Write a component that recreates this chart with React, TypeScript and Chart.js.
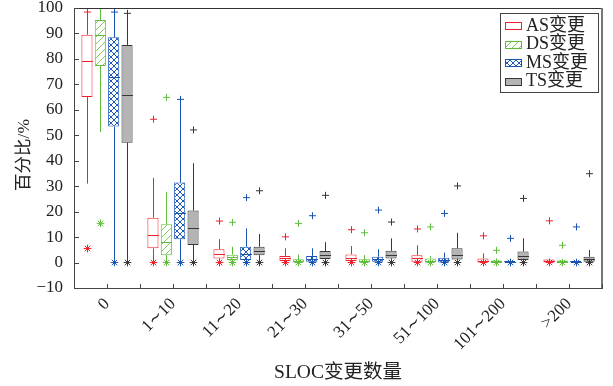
import React, { useEffect, useRef } from 'react';
import { Chart, registerables } from 'chart.js';
Chart.register(...registerables);

const categories = ['0', '1∼10', '11∼20', '21∼30', '31∼50', '51∼100', '101∼200', '>200'];
const seriesNames = ['AS变更', 'DS变更', 'MS变更', 'TS变更'];
const yTicks = [-10, 0, 10, 20, 30, 40, 50, 60, 70, 80, 90, 100];

// AS
const asMin = [5.5, 0, 0, 0, 0, 0, 0, 0];
const asLow = [31, 0, 0, 0, 0, 0, 0, 0];
const asQ1 = [65, 5.6, 1.6, 0.6, 0.6, 0.3, 0, 0];
const asMed = [79, 11, 3.3, 1.6, 1.9, 1.6, 0.8, 0.5];
const asQ3 = [89.5, 17.6, 5.2, 2.6, 3.2, 2.9, 1.6, 1.2];
const asHigh = [98.4, 33.3, 9.2, 5.6, 6.5, 6.8, 3.6, 1.5];
const asMax = [98.4, 56.3, 16.3, 10.1, 12.9, 13.2, 10.5, 16.4];
// DS
const dsMin = [15.4, 0, 0, 0, 0, 0, 0, 0];
const dsLow = [51.3, 0, 0, 0, 0, 0, 0, 0];
const dsQ1 = [77.2, 2.9, 1, 0, 0, 0, 0, 0];
const dsMed = [89.4, 8, 2.2, 0.5, 0.5, 0.5, 0.3, 0.3];
const dsQ3 = [95.3, 15, 3.1, 1.3, 1.3, 1.6, 0.8, 0.8];
const dsHigh = [100, 27.8, 6.2, 3.1, 2.9, 2.6, 1.6, 1.2];
const dsMax = [null, 64.9, 15.8, 15.4, 11.7, 14, 4.8, 6.8];
// MS
const msMin = [0, 0, 0, 0, 0, 0, 0, 0];
const msLow = [0, 0, 0, 0, 0, 0, 0, 0];
const msQ1 = [53.4, 9.2, 1, 0.3, 0.3, 0, 0, 0];
const msMed = [73, 19.3, 3.5, 1.2, 1.2, 1.0, 0.3, 0.3];
const msQ3 = [88.5, 31.4, 6.2, 2.6, 2.3, 1.9, 0.6, 0.6];
const msHigh = [98.4, 64.1, 13.4, 5.6, 5.2, 3.9, 1.0, 1.0];
const msMax = [98.4, 64.1, 25.5, 18.4, 20.6, 19.3, 9.5, 14];
// TS
const tsMin = [0, 0, 0, 0, 0, 0, 0, 0];
const tsLow = [0, 0, 0, 0, 0, 0, 0, 0];
const tsQ1 = [47.1, 6.9, 2.9, 1.4, 1.6, 1.2, 1.0, 0.3];
const tsMed = [65.8, 13.4, 4.5, 2.9, 3.1, 2.9, 2.6, 1.2];
const tsQ3 = [85.5, 20.4, 6.2, 4.5, 4.6, 5.6, 4.3, 2.3];
const tsHigh = [97.9, 39, 11.2, 8, 9.5, 11.7, 9.5, 4.9];
const tsMax = [97.9, 52.1, 28.2, 26.4, 15.9, 30.1, 25.2, 34.9];

const stats = [
  { min: asMin, low: asLow, q1: asQ1, med: asMed, q3: asQ3, high: asHigh, max: asMax },
  { min: dsMin, low: dsLow, q1: dsQ1, med: dsMed, q3: dsQ3, high: dsHigh, max: dsMax },
  { min: msMin, low: msLow, q1: msQ1, med: msMed, q3: msQ3, high: msHigh, max: msMax },
  { min: tsMin, low: tsLow, q1: tsQ1, med: tsMed, q3: tsQ3, high: tsHigh, max: tsMax },
];

const styles = [
  { line: 'rgb(240,32,44)', kind: 'none', hatch: '', fill: '#ffffff' },
  { line: 'rgb(96,188,60)', kind: 'diag', hatch: 'rgb(120,205,85)', fill: '#ffffff' },
  { line: 'rgb(24,84,178)', kind: 'cross', hatch: 'rgb(30,90,185)', fill: '#ffffff' },
  { line: 'rgb(55,55,55)', kind: 'solid', hatch: '', fill: 'rgb(180,180,180)' },
];

const SERIF = "'Liberation Serif', 'DejaVu Serif', 'Noto Sans CJK SC', serif";

function makeFill(st: any): any {
  if (st.kind === 'none' || st.kind === 'solid') return st.fill;
  const s = st.kind === 'cross' ? 6 : 7;
  const c = document.createElement('canvas');
  c.width = s; c.height = s;
  const g = c.getContext('2d')!;
  g.fillStyle = '#ffffff';
  g.fillRect(0, 0, s, s);
  g.strokeStyle = st.hatch;
  g.lineWidth = 1;
  g.beginPath();
  g.moveTo(-1, s + 1); g.lineTo(s + 1, -1);
  if (st.kind === 'cross') { g.moveTo(-1, -1); g.lineTo(s + 1, s + 1); }
  g.stroke();
  return g.createPattern(c, 'repeat');
}

function plus(ctx: CanvasRenderingContext2D, x: number, y: number, r: number) {
  ctx.beginPath();
  ctx.moveTo(x - r, y); ctx.lineTo(x + r, y);
  ctx.moveTo(x, y - r); ctx.lineTo(x, y + r);
  ctx.stroke();
}
function star(ctx: CanvasRenderingContext2D, x: number, y: number, r: number) {
  const d = r * 0.72;
  ctx.beginPath();
  ctx.moveTo(x - r, y); ctx.lineTo(x + r, y);
  ctx.moveTo(x, y - r); ctx.lineTo(x, y + r);
  ctx.moveTo(x - d, y - d); ctx.lineTo(x + d, y + d);
  ctx.moveTo(x - d, y + d); ctx.lineTo(x + d, y - d);
  ctx.stroke();
}

export default function App() {
  const ref = useRef<HTMLCanvasElement>(null);
  useEffect(() => {
    const fills = styles.map(makeFill);
    const boxPlugin = {
      id: 'boxExtras',
      afterDatasetsDraw(chart: any) {
        const ctx: CanvasRenderingContext2D = chart.ctx;
        const ys = chart.scales.y;
        const xs = chart.scales.x;
        const a = chart.chartArea;
        ctx.save();
        ctx.beginPath();
        ctx.rect(a.left, a.top - 1, a.right - a.left, a.bottom - a.top + 1);
        ctx.clip();
        stats.forEach((st, di) => {
          const meta = chart.getDatasetMeta(di);
          const color = styles[di].line;
          ctx.strokeStyle = color;
          ctx.lineWidth = 1;
          meta.data.forEach((el: any, i: number) => {
            const x = Math.round(el.x) + 0.5;
            const w = el.width;
            const py = (v: number) => ys.getPixelForValue(v);
            ctx.beginPath();
            ctx.moveTo(x, py(st.q3[i])); ctx.lineTo(x, py(st.high[i]));
            ctx.moveTo(x, py(st.q1[i])); ctx.lineTo(x, py(st.low[i]));
            ctx.stroke();
            ctx.beginPath();
            const my = Math.round(py(st.med[i])) + 0.5;
            ctx.moveTo(x - w / 2, my); ctx.lineTo(x + w / 2, my);
            ctx.stroke();
            const mx = st.max[i];
            if (mx !== null && mx !== undefined) plus(ctx, x, py(mx as number), 3.5);
            star(ctx, x, py(st.min[i]), 3.8);
          });
        });
        ctx.restore();

        ctx.save();
        ctx.strokeStyle = '#333';
        ctx.lineWidth = 1;
        ctx.beginPath();
        ctx.moveTo(a.left, a.top + 0.5); ctx.lineTo(a.right, a.top + 0.5);
        ctx.stroke();
        ctx.strokeStyle = '#777';
        ctx.lineWidth = 2;
        ctx.beginPath();
        ctx.moveTo(a.right, a.top); ctx.lineTo(a.right, a.bottom);
        ctx.stroke();
        ctx.strokeStyle = '#444';
        ctx.lineWidth = 1;
        ctx.beginPath();
        yTicks.forEach((v) => {
          const yy = Math.round(ys.getPixelForValue(v)) + 0.5;
          ctx.moveTo(a.left, yy); ctx.lineTo(a.left + 5, yy);
        });
        const n = categories.length;
        for (let k = 0; k <= 2 * n; k++) {
          const xx = Math.round(xs.left + (xs.right - xs.left) * k / (2 * n)) + 0.5;
          ctx.moveTo(xx, a.bottom); ctx.lineTo(xx, a.bottom - 4);
        }
        ctx.stroke();

        ctx.fillStyle = '#222';
        ctx.font = `19.5px ${SERIF}`;
        ctx.textAlign = 'center';
        ctx.textBaseline = 'middle';
        ctx.fillText('SLOC变更数量', 338, 373);
        ctx.save();
        ctx.translate(24, 155);
        ctx.rotate(-Math.PI / 2);
        ctx.font = `17.5px ${SERIF}`;
        ctx.fillText('百分比/%', 0, 0);
        ctx.restore();

        const lx = 500, ly = 13, lw = 98, lh = 79;
        ctx.fillStyle = '#fff';
        ctx.fillRect(lx, ly, lw, lh);
        ctx.strokeStyle = '#444';
        ctx.lineWidth = 1;
        ctx.strokeRect(lx + 0.5, ly + 0.5, lw, lh);
        ctx.font = `18px ${SERIF}`;
        ctx.textAlign = 'left';
        seriesNames.forEach((name, i) => {
          const cy = 25 + i * 18.5;
          ctx.fillStyle = fills[i];
          ctx.fillRect(505, Math.round(cy - 3), 16, 7);
          ctx.strokeStyle = styles[i].line;
          ctx.strokeRect(505.5, Math.round(cy - 3) + 0.5, 16, 7);
          ctx.fillStyle = '#222';
          ctx.fillText(name, 526, cy + 1);
        });
        ctx.restore();
      },
    };

    const chart = new Chart(ref.current!, {
      type: 'bar',
      data: {
        labels: categories,
        datasets: stats.map((st, di) => ({
          label: seriesNames[di],
          data: st.q1.map((q, i) => [q, Math.max(st.q3[i], q + 0.4)]),
          backgroundColor: fills[di],
          borderColor: styles[di].line,
          borderWidth: 1,
          borderSkipped: false,
          categoryPercentage: 0.81,
          barPercentage: 0.83,
        })) as any,
      },
      options: {
        responsive: false,
        animation: false,
        layout: { padding: { top: 8, right: 11, left: 0, bottom: 0 } },
        plugins: { legend: { display: false }, tooltip: { enabled: false } },
        scales: {
          x: {
            grid: { display: false, drawTicks: false },
            border: { display: true, color: '#444' },
            ticks: {
              autoSkip: false, minRotation: 45, maxRotation: 45, padding: 6,
              color: '#222', font: { family: SERIF, size: 17 },
            },
            afterFit: (s: any) => { s.height = 98; s.paddingLeft = 0; s.paddingRight = 0; },
          },
          y: {
            min: -10, max: 100,
            grid: { display: false, drawTicks: false },
            border: { display: true, color: '#444' },
            ticks: {
              stepSize: 10, padding: 11, color: '#222', font: { family: SERIF, size: 17 },
              callback: (v: any) => (v < 0 ? '−' + Math.abs(v) : String(v)),
            },
            afterFit: (s: any) => { s.width = 74; s.paddingTop = 0; s.paddingBottom = 0; },
          },
        },
      } as any,
      plugins: [boxPlugin],
    });
    return () => chart.destroy();
  }, []);
  return (
    <div style={{ position: 'fixed', left: 0, top: 0, width: 613, height: 386, background: '#fff' }}>
      <canvas ref={ref} width={613} height={386} style={{ display: 'block' }} />
    </div>
  );
}
